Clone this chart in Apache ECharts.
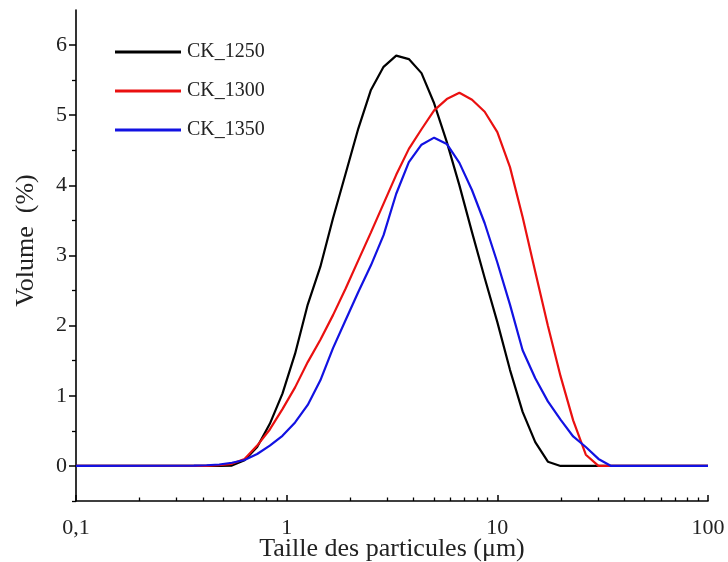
<!DOCTYPE html>
<html>
<head>
<meta charset="utf-8">
<script src="https://cdn.jsdelivr.net/npm/echarts@6/dist/echarts.min.js"></script>
<style>
html,body{margin:0;padding:0;background:#fff;}
#chart{width:728px;height:562px;}
</style>
</head>
<body>
<div id="chart"></div>
<script>
// Particle sizes (µm)
const sizes = [0.1, 0.3631, 0.4169, 0.4786, 0.5495, 0.631, 0.7244, 0.8318, 0.955, 1.0965,
  1.2589, 1.4454, 1.6596, 1.9055, 2.1878, 2.5119, 2.884, 3.3113, 3.8019, 4.3652,
  5.0119, 5.7544, 6.6069, 7.5858, 8.7096, 10, 11.482, 13.183, 15.136, 17.378,
  19.953, 22.909, 26.303, 30.2, 34.674, 39.811, 100];
// Volume (%)
const ck1250 = [0, 0, 0, 0, 0.005, 0.08, 0.27, 0.6, 1.03, 1.6,
  2.3, 2.84, 3.53, 4.17, 4.81, 5.36, 5.69, 5.85, 5.8, 5.6,
  5.17, 4.62, 4.0, 3.33, 2.68, 2.05, 1.37, 0.77, 0.34, 0.06,
  0, 0, 0, 0, 0, 0, 0];
const ck1300 = [0, 0, 0, 0.01, 0.03, 0.1, 0.29, 0.52, 0.81, 1.12,
  1.48, 1.8, 2.15, 2.53, 2.93, 3.33, 3.74, 4.15, 4.52, 4.8,
  5.07, 5.23, 5.32, 5.22, 5.05, 4.76, 4.26, 3.55, 2.77, 2.0,
  1.28, 0.65, 0.16, 0, 0, 0, 0];
const ck1350 = [0, 0.003, 0.01, 0.02, 0.045, 0.085, 0.17, 0.29, 0.43, 0.62,
  0.87, 1.22, 1.68, 2.08, 2.48, 2.86, 3.29, 3.88, 4.33, 4.58,
  4.68, 4.59, 4.32, 3.93, 3.46, 2.9, 2.3, 1.65, 1.25, 0.92,
  0.66, 0.42, 0.27, 0.1, 0, 0, 0];
const seriesNames = ['CK_1250', 'CK_1300', 'CK_1350'];
const seriesColors = ['#000000', '#ea1010', '#1212e2'];
const xMajorTicks = [0.1, 1, 10, 100];
const xMinorTicks = [0.2, 0.3, 0.4, 0.5, 0.6, 0.7, 0.8, 0.9, 2, 3, 4, 5, 6, 7, 8, 9, 20, 30, 40, 50, 60, 70, 80, 90];
const yMajorTicks = [0, 1, 2, 3, 4, 5, 6];
const yMinorTicks = [-0.5, 0.5, 1.5, 2.5, 3.5, 4.5, 5.5];

const FONT = 'Liberation Serif';
const chart = echarts.init(document.getElementById('chart'), null, {renderer: 'canvas'});
const allValues = [ck1250, ck1300, ck1350];
const series = allValues.map((vals, i) => ({
  name: seriesNames[i],
  type: 'line',
  xAxisIndex: 0,
  yAxisIndex: 0,
  showSymbol: false,
  symbol: 'none',
  smooth: false,
  lineStyle: {color: seriesColors[i], width: 2.2},
  itemStyle: {color: seriesColors[i]},
  data: sizes.map((s, j) => [s, vals[j]]),
  z: 2 + i
}));

chart.setOption({
  animation: false,
  backgroundColor: '#fff',
  grid: {left: 76, right: 20, top: 10, bottom: 61, containLabel: false, outerBoundsMode: 'none'},
  legend: {
    orient: 'vertical',
    left: 110,
    top: 37,
    itemWidth: 66,
    itemHeight: 3,
    itemGap: 19,
    icon: 'rect',
    data: seriesNames,
    textStyle: {fontFamily: FONT, fontSize: 20, color: '#222', padding: [0, 0, 0, 1]}
  },
  xAxis: [{
    type: 'log',
    logBase: 10,
    min: 0.1,
    max: 100,
    position: 'bottom',
    axisLine: {show: true, onZero: false, lineStyle: {color: '#000', width: 1.6}},
    axisTick: {show: true, inside: true, length: 6, customValues: xMajorTicks, lineStyle: {color: '#000', width: 1.5}},
    axisLabel: {fontFamily: FONT, fontSize: 22, color: '#222', margin: 16,
      formatter: v => String(v).replace('.', ',')},
    splitLine: {show: false},
    name: 'Taille des particules (μm)',
    nameLocation: 'middle',
    nameGap: 35,
    nameMoveOverlap: false,
    nameTextStyle: {fontFamily: FONT, fontSize: 26, color: '#222'}
  }, {
    type: 'log',
    logBase: 10,
    min: 0.1,
    max: 100,
    position: 'bottom',
    axisLine: {show: false, onZero: false},
    axisTick: {show: true, inside: true, length: 3.5, customValues: xMinorTicks, lineStyle: {color: '#000', width: 1.3}},
    axisLabel: {show: false},
    splitLine: {show: false}
  }],
  yAxis: [{
    type: 'value',
    min: -0.5,
    max: 6.5,
    position: 'left',
    axisLine: {show: true, onZero: false, lineStyle: {color: '#000', width: 1.6}},
    axisTick: {show: true, inside: false, length: 7, customValues: yMajorTicks, lineStyle: {color: '#000', width: 1.5}},
    axisLabel: {fontFamily: FONT, fontSize: 22, color: '#222', margin: 9, customValues: yMajorTicks},
    splitLine: {show: false},
    name: 'Volume  (%)',
    nameLocation: 'middle',
    nameRotate: 90,
    nameGap: 37,
    nameMoveOverlap: false,
    nameTextStyle: {fontFamily: FONT, fontSize: 26, color: '#222', padding: [0, 0, 0, 30]}
  }, {
    type: 'value',
    min: -0.5,
    max: 6.5,
    position: 'left',
    axisLine: {show: false, onZero: false},
    axisTick: {show: true, inside: false, length: 4, customValues: yMinorTicks, lineStyle: {color: '#000', width: 1.3}},
    axisLabel: {show: false},
    splitLine: {show: false}
  }],
  series: series
});
</script>
</body>
</html>
